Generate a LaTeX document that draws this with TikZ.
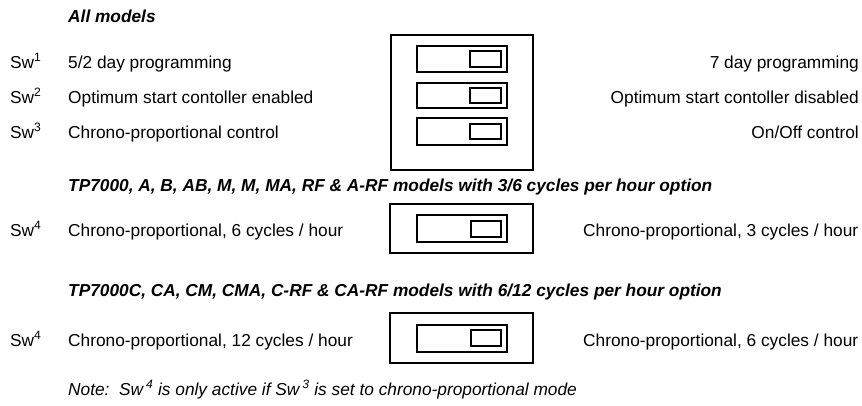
\documentclass[tikz,border=0pt]{standalone}
\usepackage{fontspec}
\setmainfont{Liberation Sans}

\tikzset{
  txt/.style={inner sep=0pt,font=\fontsize{17.3}{20}\selectfont},
  lft/.style={txt,anchor=base west},
  rgt/.style={txt,anchor=base east},
  head/.style={lft,font=\fontsize{17.3}{20}\selectfont\bfseries\itshape},
  frame/.style={draw,line width=1.2pt},
  knob/.style={draw,line width=1.1pt}
}

\begin{document}
\begin{tikzpicture}[x=1pt,y=-1pt]
  \useasboundingbox (0,0) rectangle (862,405);
  % all models
  \node[head] (hAll) at (68,22) {All models};
  \node[lft] (sw1) at (10,68) {Sw\textsuperscript{1}};
  \node[lft] (a1) at (68,68) {5/2 day programming};
  \node[rgt] (b1) at (859,68) {7 day programming};
  \node[lft] (sw2) at (10,103) {Sw\textsuperscript{2}};
  \node[lft] (a2) at (68,103) {Optimum start contoller enabled};
  \node[rgt] (b2) at (859,103) {Optimum start contoller disabled};
  \node[lft] (sw3) at (10,138) {Sw\textsuperscript{3}};
  \node[lft] (a3) at (68,138) {Chrono-proportional control};
  \node[rgt] (b3) at (859,138) {On/Off control};
  \draw[frame] (391,35) rectangle (533,170);
  \draw[frame] (417,46) rectangle (507,72);
  \draw[knob] (470,51) rectangle (501,67);
  \draw[frame] (417,83) rectangle (507,108);
  \draw[knob] (470,88) rectangle (501,103);
  \draw[frame] (417,118) rectangle (507,145);
  \draw[knob] (470,124) rectangle (501,139);

  % 3/6 cycles
  \node[head] (hTP) at (68,191) {TP7000, A, B, AB, M, M, MA, RF \& A-RF models with 3/6 cycles per hour option};
  \node[lft] (sw4) at (10,236) {Sw\textsuperscript{4}};
  \node[lft] (a4) at (68,236) {Chrono-proportional, 6 cycles / hour};
  \node[lft] (b4) at (583,236) {Chrono-proportional, 3 cycles / hour};
  \draw[frame] (390,204) rectangle (533,253);
  \draw[frame] (417,215) rectangle (507,242);
  \draw[knob] (471,221) rectangle (501,237);

  % 6/12 cycles
  \node[head] (hTPC) at (68,296) {TP7000C, CA, CM, CMA, C-RF \& CA-RF models with 6/12 cycles per hour option};
  \node[lft] (sw5) at (10,346) {Sw\textsuperscript{4}};
  \node[lft] (a5) at (68,346) {Chrono-proportional, 12 cycles / hour};
  \node[lft] (b5) at (583,346) {Chrono-proportional, 6 cycles / hour};
  \draw[frame] (390,313) rectangle (533,363);
  \draw[frame] (417,325) rectangle (507,352);
  \draw[knob] (471,330) rectangle (501,346);

  \node[lft,font=\fontsize{17.3}{20}\selectfont\itshape] (note) at (68,395)
    {Note:\ \ Sw\,\textsuperscript{4}\ is only active if Sw\,\textsuperscript{3}\ is set to chrono-proportional mode};
\end{tikzpicture}
\end{document}
